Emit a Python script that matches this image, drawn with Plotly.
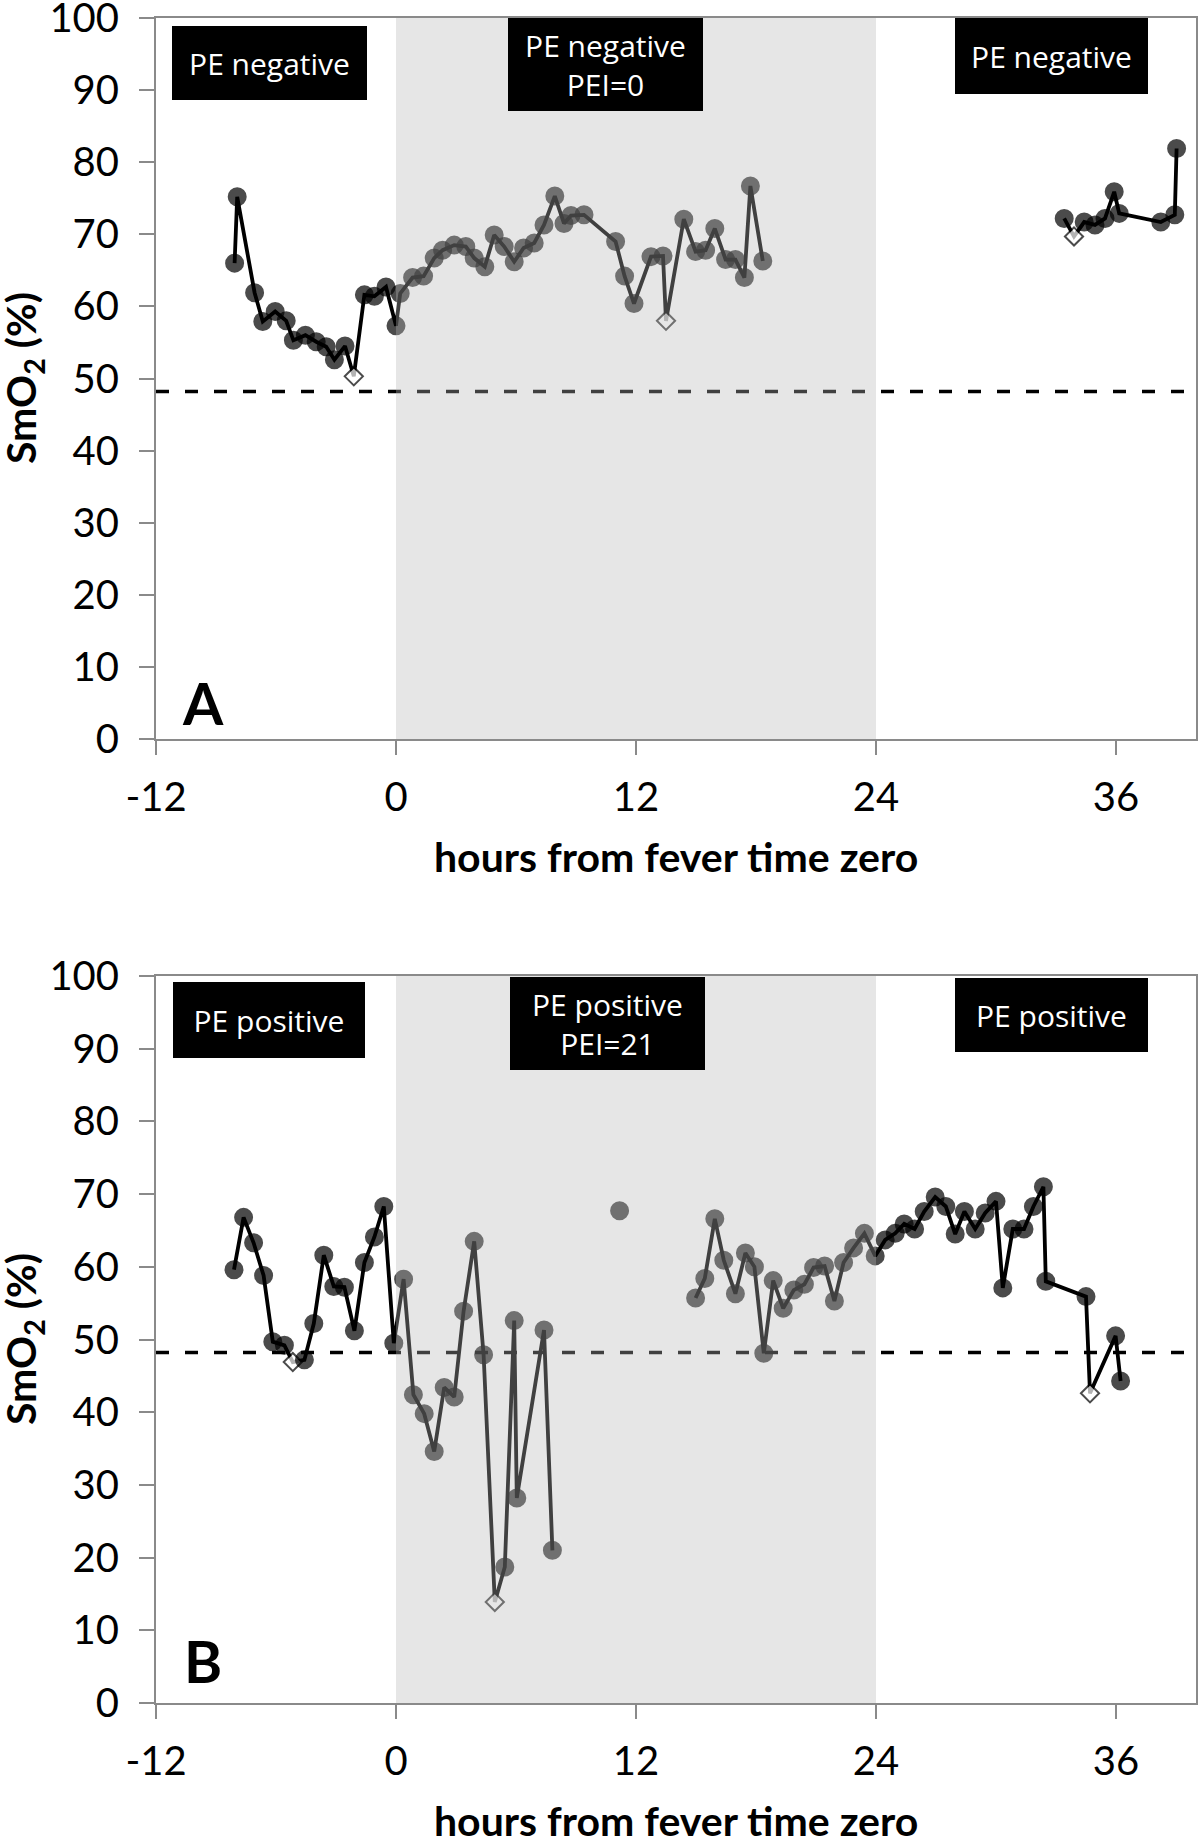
import plotly.graph_objects as go

# ---------------- data ----------------
# Panel A (PE negative) : hours from fever time zero, SmO2 (%); None = gap in record
hours_a = [-8.07, -7.94, -7.07, -6.66, -6.04, -5.49, -5.13, -4.53, -3.99, -3.49,
           -3.08, -2.55, -2.11, -1.58, -1.08, -0.50, 0.00, 0.21, 0.83, 1.38,
           1.91, 2.33, 2.91, 3.49, 3.91, 4.44, 4.91, 5.41, 5.91, 6.38,
           6.91, 7.40, 7.94, 8.40, 8.75, 9.40, 10.98, 11.43, 11.90, 12.75,
           13.35, 13.50, 14.39, 14.98, 15.48, 15.94, 16.48, 16.97, 17.42, 17.72,
           18.34, None, 33.41, 33.90, 34.41, 34.95, 35.45, 35.91, 36.16, 38.24,
           38.94, 39.03]
smo2_a = [66.0, 75.2, 61.9, 57.9, 59.3, 58.0, 55.3, 56.0, 55.1, 54.4,
          52.6, 54.5, 50.3, 61.6, 61.4, 62.7, 57.3, 61.8, 64.0, 64.2,
          66.7, 67.8, 68.5, 68.3, 66.7, 65.5, 69.9, 68.3, 66.2, 68.1,
          68.8, 71.3, 75.3, 71.5, 72.6, 72.7, 69.0, 64.2, 60.4, 66.9,
          67.0, 58.0, 72.1, 67.6, 67.8, 70.8, 66.5, 66.5, 64.0, 76.7,
          66.3, None, 72.2, 69.7, 71.7, 71.3, 72.2, 75.9, 72.9, 71.7,
          72.7, 81.9]
open_a = [-2.11, 13.50, 33.90]   # hours of open-diamond readings

# Panel B (PE positive)
hours_b = [-8.10, -7.62, -7.12, -6.62, -6.16, -5.58, -5.16, -4.58, -4.11, -3.61,
           -3.11, -2.58, -2.08, -1.58, -1.08, -0.61, -0.11, 0.38, 0.87, 1.41,
           1.91, 2.41, 2.91, 3.38, 3.91, 4.38, 4.94, 5.44, 5.91, 6.04,
           7.40, 7.82, None, 11.18, None, 14.98, 15.44, 15.94, 16.39, 16.97,
           17.47, 17.92, 18.39, 18.86, 19.36, 19.89, 20.42, 20.88, 21.43, 21.92,
           22.38, 22.88, 23.42, 23.96, 24.46, 24.96, 25.41, 25.93, 26.41, 26.96,
           27.49, 27.96, 28.42, 28.96, 29.46, 30.00, 30.34, 30.84, 31.40, 31.87,
           32.37, 32.49, 34.50, 34.70, 35.98, 36.23]
smo2_b = [59.6, 66.8, 63.3, 58.8, 49.7, 49.2, 46.9, 47.2, 52.2, 61.6,
          57.3, 57.2, 51.2, 60.6, 64.1, 68.3, 49.5, 58.3, 42.4, 39.8,
          34.6, 43.4, 42.1, 53.9, 63.5, 47.9, 13.9, 18.7, 52.6, 28.2,
          51.3, 21.0, None, 67.7, None, 55.7, 58.4, 66.6, 60.9, 56.3,
          61.9, 60.0, 48.1, 58.1, 54.3, 56.8, 57.6, 59.9, 60.1, 55.3,
          60.6, 62.6, 64.6, 61.5, 63.7, 64.6, 65.9, 65.2, 67.6, 69.6,
          68.3, 64.5, 67.6, 65.2, 67.4, 69.0, 57.1, 65.2, 65.2, 68.3,
          71.0, 58.0, 55.9, 42.6, 50.5, 44.3]
open_b = [-5.16, 4.94, 34.70]

threshold = 48.2
period_start, period_end = 0, 24
x_ticks = [-12, 0, 12, 24, 36]
x_tick_labels = ["-12", "0", "12", "24", "36"]
y_ticks = list(range(0, 101, 10))

boxes_a = ["PE negative", "PE negative<br>PEI=0", "PE negative"]
boxes_b = ["PE positive", "PE positive<br>PEI=21", "PE positive"]

# ---------------- figure ----------------
W, H = 1200, 1837
ML, MR, MT, MB = 156, 4, 18, 134
plot_h = H - MT - MB
TICKFONT = dict(family="Lato, sans-serif", size=40, color="black")

fig = go.Figure()


def marker_style(xs, opens):
    syms, cols, sizes = [], [], []
    for x in xs:
        if x is not None and x in opens:
            syms.append("diamond"); cols.append("white"); sizes.append(14)
        else:
            syms.append("circle"); cols.append("black"); sizes.append(17)
    return syms, cols, sizes


for xs, ys, opens, xa, ya in [(hours_a, smo2_a, open_a, "x", "y"),
                              (hours_b, smo2_b, open_b, "x2", "y2")]:
    fig.add_trace(go.Scatter(x=[x_ticks[0], 40], y=[threshold, threshold], mode="lines",
                             line=dict(color="black", width=3.5, dash="13px,16px"),
                             xaxis=xa, yaxis=ya, showlegend=False, hoverinfo="skip"))
    syms, cols, sizes = marker_style(xs, opens)
    fig.add_trace(go.Scatter(x=xs, y=ys, mode="lines+markers", connectgaps=False,
                             line=dict(color="black", width=3.8),
                             marker=dict(symbol=syms, color=cols, size=sizes,
                                         line=dict(color="black", width=2)),
                             xaxis=xa, yaxis=ya, showlegend=False))


def py(p):  # reference pixel row -> paper fraction
    return (H - MB - p) / plot_h


dom_a = [py(739), 1.0]
dom_b = [0.0, py(976)]

axis_common = dict(showgrid=False, zeroline=False, showline=True, linecolor="#8a8a8a",
                   linewidth=2, mirror=True, ticks="outside", tickcolor="#8a8a8a",
                   tickwidth=2, tickfont=TICKFONT, ticklabeloverflow="allow")

for i, dom in [("", dom_a), ("2", dom_b)]:
    fig.update_layout(**{
        "xaxis" + i: dict(axis_common, range=[-12, 40], tickvals=x_ticks,
                          ticktext=x_tick_labels, ticklen=14,
                          ticklabelstandoff=8, anchor="y" + i, domain=[0, 1]),
        "yaxis" + i: dict(axis_common, range=[0, 100], tickvals=y_ticks, ticklen=15,
                          ticklabelstandoff=12, anchor="x" + i, domain=dom),
    })

shapes = []
for xr, yr in [("x", "y"), ("x2", "y2")]:
    shapes.append(dict(type="rect", xref=xr, yref=yr, x0=period_start, x1=period_end,
                       y0=0, y1=100, fillcolor="rgba(184,184,184,0.35)",
                       line=dict(width=0), layer="above"))
fig.update_layout(shapes=shapes)

annotations = []
BOXFONT = dict(family="Open Sans, sans-serif", size=30, color="white")
box_specs = [(-6.32, 93.8, 195, 74), (10.46, 93.5, 195, 93), (32.78, 94.7, 193, 76)]
box_specs_b = [(-6.34, 93.9, 192, 76), (10.56, 93.5, 195, 93), (32.78, 94.6, 193, 74)]
for texts, specs, xr, yr in [(boxes_a, box_specs, "x", "y"), (boxes_b, box_specs_b, "x2", "y2")]:
    for t, (bx, by, bw, bh) in zip(texts, specs):
        annotations.append(dict(text=t, x=bx, y=by, xref=xr, yref=yr, showarrow=False,
                                xanchor="center", yanchor="middle", width=bw, height=bh,
                                bgcolor="black", bordercolor="black", borderwidth=0,
                                borderpad=0, font=BOXFONT, align="center", valign="middle"))

# panel letters
for letter, xr, yr, yy in [("A", "x", "y", 5.1), ("B", "x2", "y2", 5.8)]:
    annotations.append(dict(text="<b>%s</b>" % letter, x=-9.64, y=yy, xref=xr, yref=yr,
                            showarrow=False, xanchor="center", yanchor="middle",
                            font=dict(family="Lato, sans-serif", size=58, color="black")))

TITLEFONT = dict(family="Lato, sans-serif", size=41, color="black")
for ycen in [py(857), py(1820)]:
    annotations.append(dict(text="<b>hours from fever time zero</b>", x=0.5, y=ycen,
                            xref="paper", yref="paper", showarrow=False,
                            xanchor="center", yanchor="middle", font=TITLEFONT))
for ycen in [py(378.5), py(1339.5)]:
    annotations.append(dict(text="<b>SmO<sub>2</sub> (%)</b>", x=(23.5 - ML) / (W - ML - MR),
                            y=ycen, xref="paper", yref="paper", showarrow=False,
                            textangle=-90, xanchor="center", yanchor="middle",
                            font=TITLEFONT))

fig.update_layout(annotations=annotations, width=W, height=H,
                  margin=dict(l=ML, r=MR, t=MT, b=MB, autoexpand=False),
                  plot_bgcolor="white", paper_bgcolor="white", showlegend=False)

fig.write_html("out.html", config={"displayModeBar": False},
               post_script="document.body.style.margin='0px';"
                           "document.body.style.overflow='hidden';")
